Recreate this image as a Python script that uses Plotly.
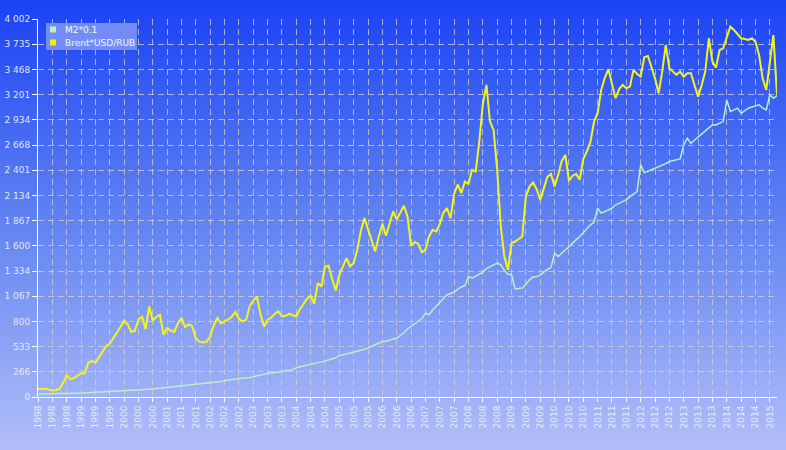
import base64
import plotly.graph_objects as go

# ---------------- data ----------------
months = list(range(207))  # Jan 1998 .. Mar 2015

brent_usd_rub = [
    85, 88, 88, 80, 70, 75, 85, 150, 229, 190, 200, 225,
    250, 250, 360, 380, 366, 420, 482, 540, 564, 620, 677, 740,
    810, 770, 690, 700, 820, 850, 720, 959, 810, 850, 870, 660,
    730, 700, 690, 780, 840, 740, 770, 750, 620, 585, 578, 585,
    640, 760, 836, 780, 800, 818, 850, 900, 830, 800, 815, 960,
    1020, 1064, 880, 747, 818, 840, 880, 906, 853, 860, 880, 870,
    853, 930, 980, 1040, 1072, 987, 1206, 1170, 1380, 1390, 1250, 1128,
    1294, 1380, 1471, 1382, 1418, 1560, 1760, 1894, 1770, 1640, 1541, 1700,
    1834, 1707, 1840, 1964, 1880, 1960, 2024, 1911, 1600, 1640, 1620, 1530,
    1560, 1700, 1770, 1752, 1830, 1950, 2000, 1894, 2150, 2250, 2158, 2281,
    2257, 2405, 2387, 2700, 3100, 3304, 2916, 2828, 2405, 1805, 1488, 1347,
    1629, 1646, 1670, 1699, 2122, 2228, 2270, 2200, 2087, 2200, 2330, 2362,
    2228, 2350, 2500, 2563, 2292, 2340, 2362, 2300, 2520, 2600, 2700, 2916,
    3004, 3251, 3380, 3470, 3304, 3163, 3260, 3304, 3269, 3286, 3463, 3420,
    3392, 3597, 3611, 3500, 3375, 3216, 3445, 3727, 3481, 3445, 3410, 3445,
    3392, 3428, 3428, 3304, 3180, 3300, 3445, 3798, 3551, 3487, 3674, 3692,
    3798, 3921, 3886, 3840, 3798, 3790, 3780, 3798, 3760, 3622, 3375, 3251,
    3516, 3833, 3200,
]

m2_x01 = [
    32, 32, 33, 33, 34, 34, 34, 35, 37, 38, 39, 40,
    42, 43, 44, 45, 47, 48, 50, 51, 53, 55, 57, 59,
    62, 64, 66, 69, 72, 75, 78, 81, 85, 89, 93, 98,
    105, 106, 108, 111, 114, 118, 122, 126, 130, 134, 138, 142,
    150, 152, 158, 165, 172, 180, 185, 190, 195, 198, 202, 205,
    215, 225, 232, 240, 248, 254, 258, 262, 266, 271, 281, 290,
    310, 320, 330, 340, 350, 358, 366, 372, 380, 390, 400, 415,
    440, 445, 455, 466, 475, 485, 495, 505, 520, 536, 550, 565,
    588, 590, 605, 615, 624, 650, 680, 720, 750, 776, 800, 830,
    889, 871, 920, 960, 995, 1040, 1082, 1095, 1110, 1140, 1165, 1180,
    1276, 1259, 1280, 1300, 1320, 1360, 1380, 1400, 1418, 1400, 1340, 1300,
    1294, 1143, 1150, 1153, 1190, 1241, 1270, 1276, 1290, 1320, 1350, 1370,
    1523, 1488, 1520, 1560, 1590, 1629, 1660, 1699, 1740, 1780, 1823, 1850,
    2000, 1947, 1960, 1980, 2000, 2035, 2050, 2070, 2090, 2122, 2150, 2175,
    2458, 2376, 2390, 2405, 2420, 2440, 2455, 2470, 2493, 2500, 2511, 2520,
    2669, 2740, 2687, 2720, 2760, 2793, 2820, 2850, 2881, 2881, 2900, 2916,
    3145, 3022, 3040, 3058, 3004, 3030, 3058, 3070, 3080, 3093, 3060, 3040,
    3198, 3163, 3191,
]

x_tick_months = list(range(0, 207, 4))
x_tick_labels = [
    "1998", "1998", "1998", "1999", "1999", "1999", "2000", "2000", "2000",
    "2001", "2001", "2001", "2002", "2002", "2002", "2003", "2003", "2003",
    "2004", "2004", "2004", "2005", "2005", "2005", "2006", "2006", "2006",
    "2007", "2007", "2007", "2008", "2008", "2008", "2009", "2009", "2009",
    "2010", "2010", "2010", "2011", "2011", "2011", "2012", "2012", "2012",
    "2013", "2013", "2013", "2014", "2014", "2014", "2015",
]

y_tick_values = [0, 266.8, 533.6, 800.4, 1067.2, 1334, 1600.8, 1867.6, 2134.4,
                 2401.2, 2668, 2934.8, 3201.6, 3468.4, 3735.2, 4002]
y_tick_labels = ["0", "266", "533", "800", "1 067", "1 334", "1 600", "1 867",
                 "2 134", "2 401", "2 668", "2 934", "3 201", "3 468", "3 735", "4 002"]

series_names = ["M2*0.1", "Brent*USD/RUB"]

# ---------------- style ----------------
W, H = 786, 450
ML, MR, MT, MB = 38, 9, 19, 53
PW, PH = W - ML - MR, H - MT - MB

M2_COLOR = "#b8f0c8"
BRENT_COLOR = "#f4f41c"
SWATCH_COLORS = ["#c4ecbc", "#f0f000"]
TEXT_COLOR = "rgba(236,240,255,0.95)"
GRID_COLOR = "rgba(215,210,205,0.75)"
FONT = "DejaVu Sans"


def px(xp):
    return (xp - ML) / PW


def py(yp):
    return 1 - (yp - MT) / PH


svg = (
    '<svg xmlns="http://www.w3.org/2000/svg" width="786" height="450" '
    'preserveAspectRatio="none"><defs><linearGradient id="g" x1="0" y1="0" '
    'x2="0" y2="1"><stop offset="0" stop-color="#1a42f5"/>'
    '<stop offset="0.5" stop-color="#6284f1"/>'
    '<stop offset="1" stop-color="#b2bef9"/></linearGradient></defs>'
    '<rect width="786" height="450" fill="url(#g)"/></svg>'
)
bg_src = "data:image/svg+xml;base64," + base64.b64encode(svg.encode()).decode()

fig = go.Figure()

fig.add_trace(go.Scatter(
    x=months, y=m2_x01, mode="lines", name=series_names[0],
    line=dict(color=M2_COLOR, width=1.5),
))
fig.add_trace(go.Scatter(
    x=months, y=brent_usd_rub, mode="lines", name=series_names[1],
    line=dict(color=BRENT_COLOR, width=2),
))

# legend box (drawn with shapes + text annotations for compact look)
shapes = [dict(
    type="rect", xref="paper", yref="paper",
    x0=px(46), x1=px(137), y0=py(50), y1=py(23),
    fillcolor="rgba(118,146,244,0.94)", line=dict(width=0), layer="above",
)]
annotations = []
for i, (name, col) in enumerate(zip(series_names, SWATCH_COLORS)):
    cy = 29.5 + i * 13
    shapes.append(dict(
        type="rect", xref="paper", yref="paper",
        x0=px(50), x1=px(56), y0=py(cy + 3), y1=py(cy - 3),
        fillcolor=col, line=dict(width=0), layer="above",
    ))
    annotations.append(dict(
        text=name, xref="paper", yref="paper", x=px(63), y=py(cy),
        xanchor="left", yanchor="middle", showarrow=False,
        font=dict(family=FONT, size=9, color="rgba(245,248,255,1)"),
    ))

fig.update_layout(
    width=W, height=H,
    margin=dict(l=ML, r=MR, t=MT, b=MB, pad=0, autoexpand=False),
    paper_bgcolor="#6284f1",
    plot_bgcolor="rgba(0,0,0,0)",
    font=dict(family=FONT, size=9, color=TEXT_COLOR),
    images=[dict(
        source=bg_src, xref="paper", yref="paper",
        x=-ML / PW, y=1 + MT / PH, sizex=W / PW, sizey=H / PH,
        xanchor="left", yanchor="top", sizing="stretch", layer="below",
    )],
    shapes=shapes,
    annotations=annotations,
    showlegend=False,
)

fig.update_xaxes(
    range=[0, 206], tickmode="array", tickvals=x_tick_months, ticktext=x_tick_labels,
    tickangle=-90, showline=True, linecolor="white", linewidth=1,
    ticks="outside", ticklen=4, tickcolor="white", automargin=False,
    showgrid=True, gridcolor=GRID_COLOR, griddash="6px,4px", gridwidth=1,
    zeroline=False, tickfont=dict(family=FONT, size=9, color=TEXT_COLOR),
)
fig.update_yaxes(
    range=[0, 4002], tickmode="array", tickvals=y_tick_values, ticktext=y_tick_labels,
    showline=True, linecolor="white", linewidth=1,
    ticks="outside", ticklen=5, tickcolor="white", automargin=False,
    showgrid=True, gridcolor=GRID_COLOR, griddash="6px,4px", gridwidth=1,
    zeroline=False, tickfont=dict(family=FONT, size=9, color=TEXT_COLOR),
)

fig.write_html("out.html")
